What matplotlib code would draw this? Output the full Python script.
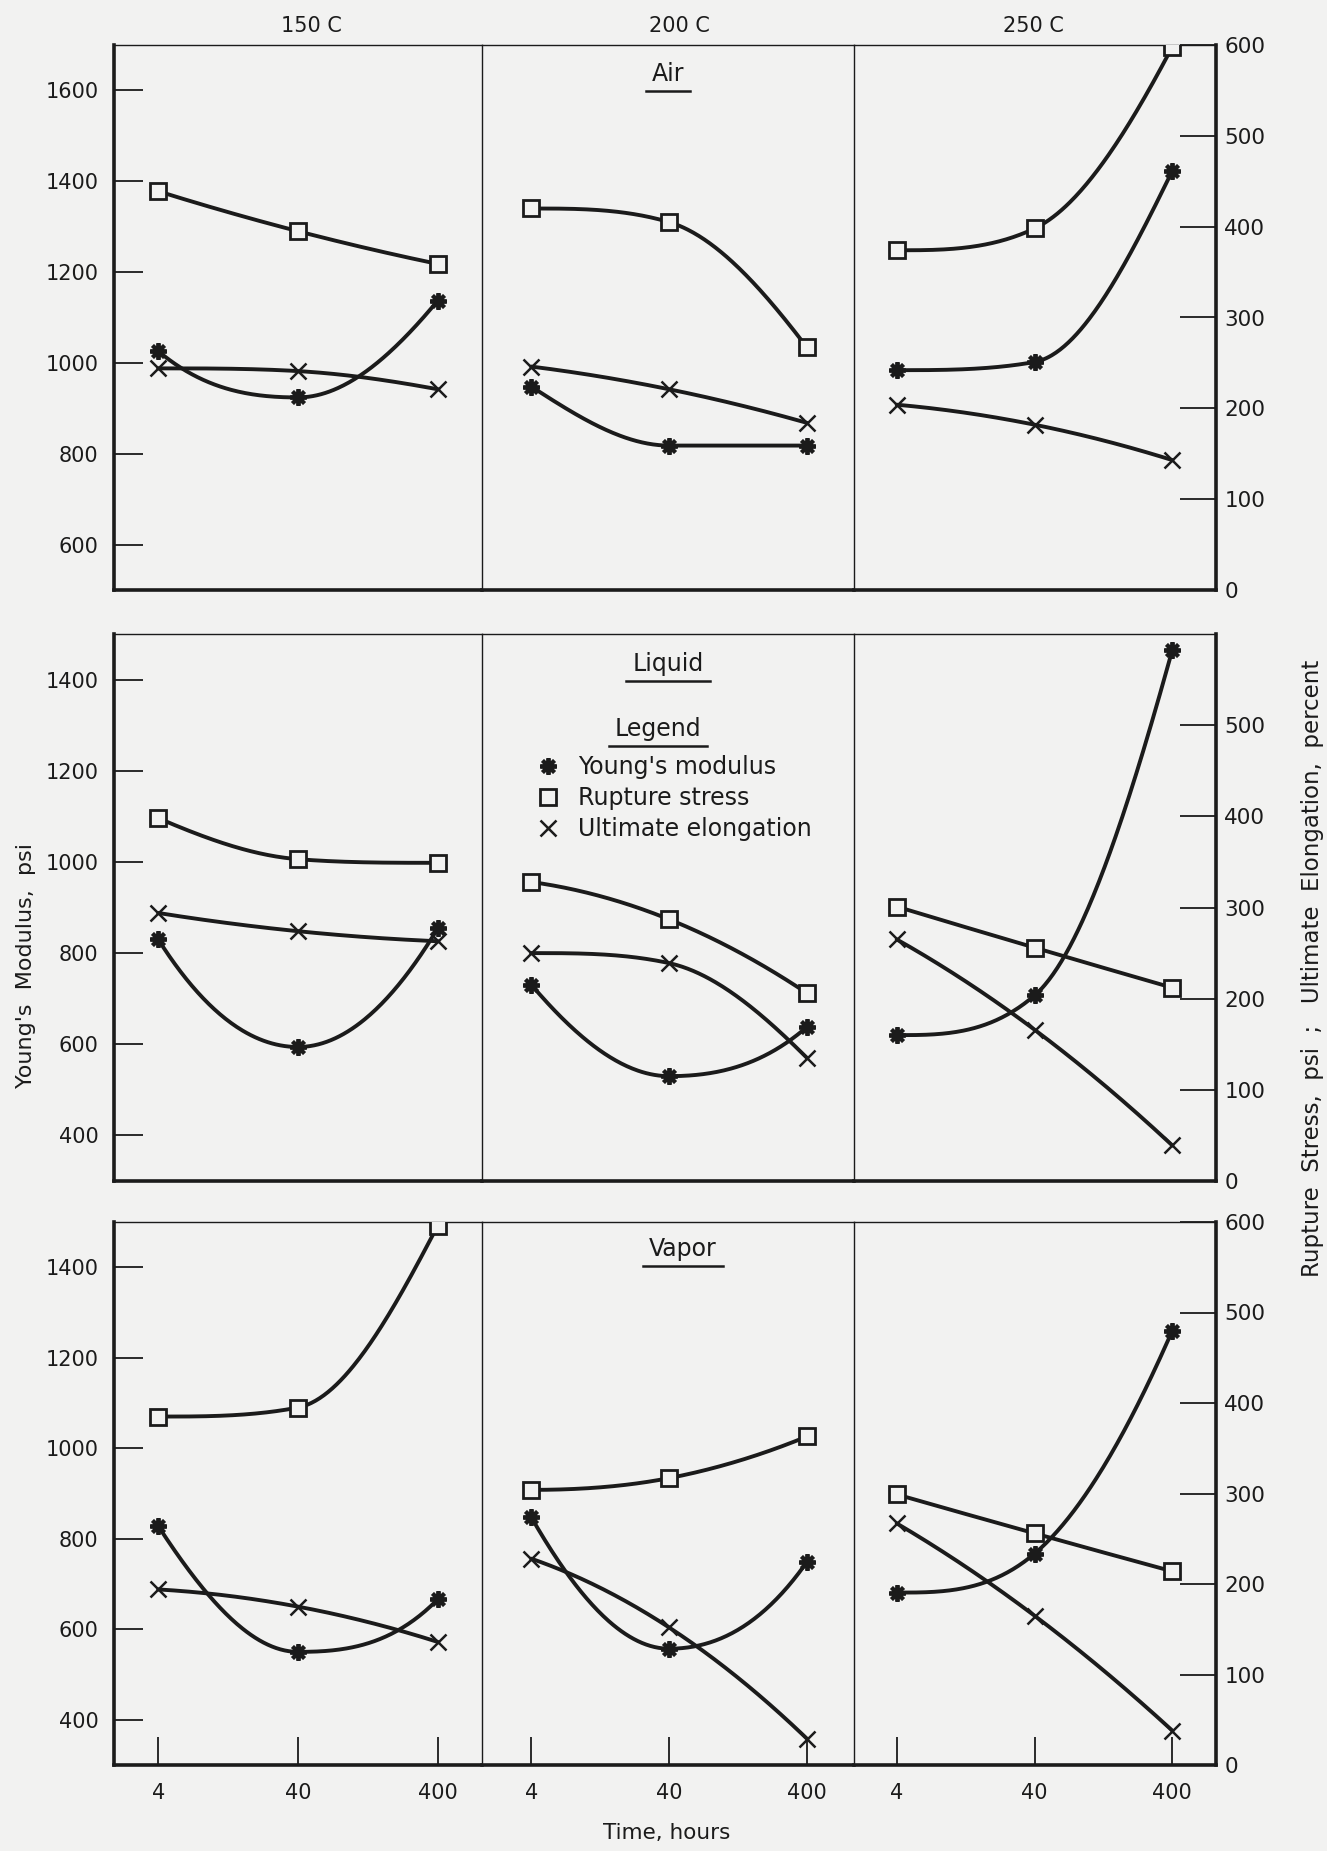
import numpy as np
import matplotlib
matplotlib.use("Agg")
import matplotlib.pyplot as plt
from matplotlib.lines import Line2D
from matplotlib.ticker import FixedLocator, NullLocator

hours = [4, 40, 400]
hour_labels = ["4", "40", "400"]
temps = ["150 C", "200 C", "250 C"]
media = ["Air", "Liquid", "Vapor"]

# Young's modulus, psi (left scale) -- one list per temperature
youngs_air = [[1026, 924, 1137], [948, 818, 818], [984, 1002, 1423]]
youngs_liquid = [[830, 594, 854], [731, 530, 638], [620, 707, 1465]]
youngs_vapor = [[828, 550, 666], [848, 557, 749], [681, 767, 1260]]

# Rupture stress, psi (right scale)
rupture_air = [[439, 395, 359], [420, 405, 267], [374, 398, 598]]
rupture_liquid = [[398, 353, 349], [328, 287, 206], [301, 256, 212]]
rupture_vapor = [[385, 395, 596], [304, 317, 363], [299, 256, 214]]

# Ultimate elongation, percent (right scale)
elong_air = [[244, 241, 221], [246, 221, 184], [204, 182, 143]]
elong_liquid = [[294, 274, 263], [250, 239, 135], [265, 166, 39]]
elong_vapor = [[194, 175, 136], [228, 152, 29], [267, 165, 38]]

youngs = [youngs_air, youngs_liquid, youngs_vapor]
rupture = [rupture_air, rupture_liquid, rupture_vapor]
elong = [elong_air, elong_liquid, elong_vapor]

left_lims = [(500, 1700), (300, 1500), (300, 1500)]
left_ticks = [[600, 800, 1000, 1200, 1400, 1600],
              [400, 600, 800, 1000, 1200, 1400],
              [400, 600, 800, 1000, 1200, 1400]]
right_ticks = [[0, 100, 200, 300, 400, 500, 600],
               [0, 100, 200, 300, 400, 500],
               [0, 100, 200, 300, 400, 500, 600]]

# layout in pixels
W, H = 1327, 1851
col_edges = [114, 482, 854, 1216]
row_edges = [(45, 590), (634, 1181), (1222, 1765)]
xlims = [(1.93, 830), (1.76, 877), (1.96, 830)]
title_x = [311, 679, 1033]

bg = "#f2f2f1"
ink = "#1b1b1b"
plt.rcParams["font.family"] = ["DejaVu Sans"]


def frac(x0, y0, x1, y1):
    return [x0 / W, 1 - y1 / H, (x1 - x0) / W, (y1 - y0) / H]


def smooth(xk, yk, t):
    # cubic Hermite through the three points; flat at a turning point,
    # middle slope limited so monotone runs do not overshoot
    xk = np.asarray(xk, float)
    yk = np.asarray(yk, float)
    h = np.diff(xk)
    d = np.diff(yk) / h
    m = np.zeros(3)
    if d[0] * d[1] > 0:
        mid = (d[0] + d[1]) / 2
        lim = 3 * min(abs(d[0]), abs(d[1]))
        m[1] = np.sign(mid) * min(abs(mid), lim)
    for i, (hi, hj, di, dj) in ((0, (h[0], h[1], d[0], d[1])), (2, (h[1], h[0], d[1], d[0]))):
        e = ((2 * hi + hj) * di - hi * dj) / (hi + hj)
        if np.sign(e) != np.sign(di):
            e = 0.0
        elif np.sign(di) != np.sign(dj) and abs(e) > abs(3 * di):
            e = 3 * di
        m[i] = e
    k = np.clip(np.searchsorted(xk, t) - 1, 0, 1)
    s = (t - xk[k]) / h[k]
    h00 = 2 * s ** 3 - 3 * s ** 2 + 1
    h10 = s ** 3 - 2 * s ** 2 + s
    h01 = -2 * s ** 3 + 3 * s ** 2
    h11 = s ** 3 - s ** 2
    return h00 * yk[k] + h10 * h[k] * m[k] + h01 * yk[k + 1] + h11 * h[k] * m[k + 1]


def curve(ax, y, **mk):
    lx = np.log10(hours)
    t = np.linspace(lx[0], lx[-1], 200)
    ax.plot(10 ** t, smooth(lx, y, t), color=ink, lw=2.8,
            solid_capstyle="round", zorder=2)
    ax.plot(hours, y, linestyle="none", color=ink, zorder=3, **mk)


star = dict(marker=(8, 2, 0), markersize=12, markeredgewidth=2.8, markeredgecolor=ink)
square = dict(marker="s", markersize=11, markerfacecolor=bg, markeredgewidth=2.0,
              markeredgecolor=ink)
cross = dict(marker="x", markersize=11, markeredgewidth=1.8, markeredgecolor=ink)

fig = plt.figure(figsize=(W / 100, H / 100), dpi=100, facecolor=bg)

label_axes = {}
for r in range(3):
    for c in range(3):
        ax = fig.add_axes(frac(col_edges[c], row_edges[r][0], col_edges[c + 1], row_edges[r][1]))
        ax.set_facecolor(bg)
        ax.set_xscale("log")
        ax.set_xlim(xlims[c])
        ax.set_ylim(left_lims[r])
        ax.xaxis.set_minor_locator(NullLocator())

        rax = ax.twinx()
        rax.set_ylim(0, 600)
        rax.yaxis.set_major_locator(FixedLocator(right_ticks[r]))

        for s in ax.spines.values():
            s.set_color(ink)
        ax.spines["top"].set_linewidth(1.0)
        ax.spines["bottom"].set_linewidth(2.6)
        ax.spines["left"].set_linewidth(2.6 if c == 0 else 1.0)
        ax.spines["right"].set_visible(False)
        for name, s in rax.spines.items():
            s.set_visible(name == "right" and c == 2)
            s.set_color(ink)
            s.set_linewidth(2.6)

        if c == 0:
            ax.yaxis.set_major_locator(FixedLocator(left_ticks[r]))
            ax.tick_params(axis="y", direction="in", length=21, width=1.3,
                           pad=11, labelsize=15, colors=ink)
        else:
            ax.tick_params(axis="y", left=False, labelleft=False)

        if r == 2:
            ax.set_xticks(hours, hour_labels)
            ax.tick_params(axis="x", direction="in", length=20, width=1.3,
                           pad=13, labelsize=15, colors=ink)
        else:
            ax.tick_params(axis="x", bottom=False, labelbottom=False)

        if c == 2:
            rax.tick_params(axis="y", direction="in", length=26, width=1.3,
                            pad=6, labelsize=15.5, colors=ink)
        else:
            rax.tick_params(axis="y", right=False, labelright=False)

        curve(ax, youngs[r][c], **star)
        curve(rax, rupture[r][c], **square)
        curve(rax, elong[r][c], **cross)

        if c == 1:
            label_axes[r] = rax

# column headings
for c, name in enumerate(temps):
    fig.text(title_x[c] / W, 1 - 26 / H, name,
             ha="center", va="center", fontsize=15, color=ink)

# medium names, underlined
label_pos = {"Air": (0.5, 0.946), "Liquid": (0.5, 0.946), "Vapor": (0.54, 0.95)}
underlined = []
for r, name in enumerate(media):
    ax = label_axes[r]
    x, y = label_pos[name]
    underlined.append(ax.text(x, y, name, transform=ax.transAxes, ha="center",
                              va="center", fontsize=17, color=ink))
underlined.append(fig.text(658 / W, 1 - 729 / H, "Legend", ha="center",
                           va="center", fontsize=17, color=ink))

handles = [Line2D([], [], linestyle="none", color=ink, **star),
           Line2D([], [], linestyle="none", color=ink, **square),
           Line2D([], [], linestyle="none", color=ink, **cross)]
fig.legend(handles, ["Young's modulus", "Rupture stress", "Ultimate elongation"],
           loc="upper left", bbox_to_anchor=(524 / W, 1 - 743 / H), frameon=False,
           borderpad=0, handlelength=1.0, handletextpad=0.8, labelspacing=0.3,
           fontsize=17, labelcolor=ink)

fig.canvas.draw()
renderer = fig.canvas.get_renderer()
inv = fig.transFigure.inverted()
for t in underlined:
    bb = t.get_window_extent(renderer)
    (x0, y0), (x1, _) = inv.transform([(bb.x0 - 6, bb.y0 - 5), (bb.x1 + 6, bb.y0)])
    fig.add_artist(Line2D([x0, x1], [y0, y0], transform=fig.transFigure,
                          color=ink, lw=1.8))

fig.text(26 / W, 1 - 965 / H, "Young's  Modulus,  psi", rotation=90,
         ha="center", va="center", fontsize=16, color=ink)
fig.text(1313 / W, 1 - 968 / H, "Rupture  Stress,  psi  ;   Ultimate  Elongation,  percent",
         rotation=90, ha="center", va="center", fontsize=16.5, color=ink)
fig.text(667 / W, 1 - 1833 / H, "Time, hours", ha="center", va="center",
         fontsize=15.5, color=ink)

fig.savefig("out.png", dpi=100, facecolor=bg)
